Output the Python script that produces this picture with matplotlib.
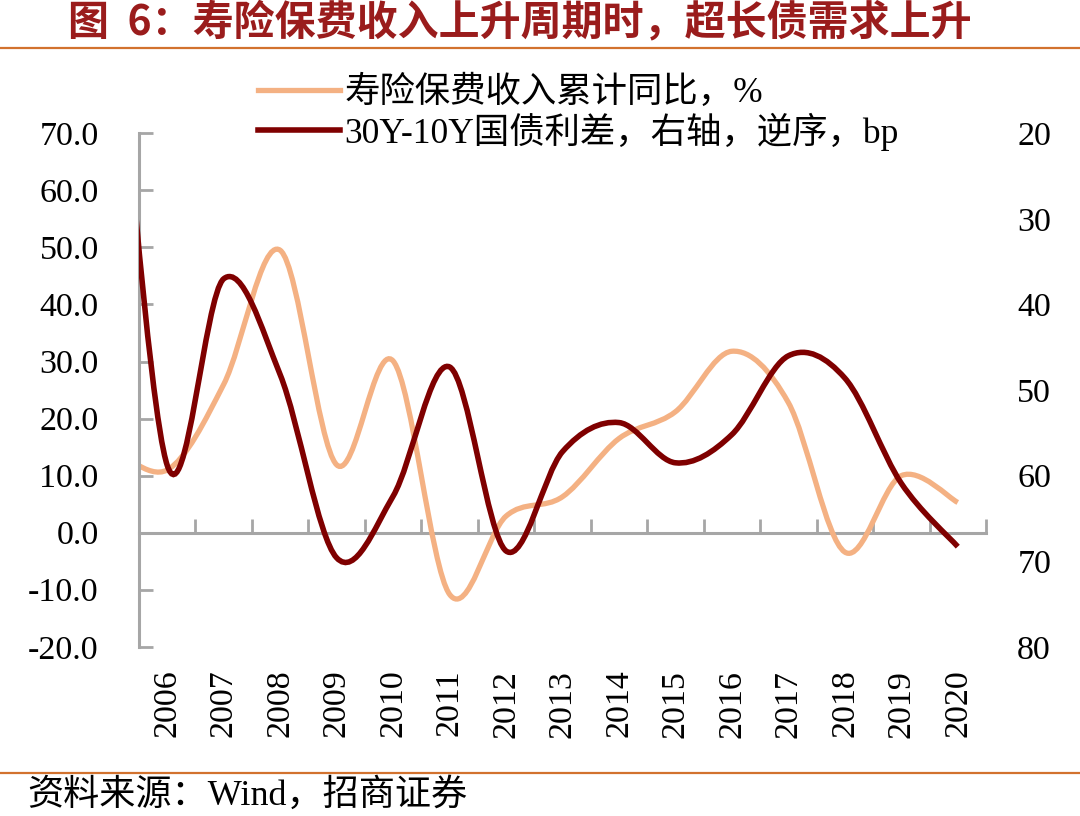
import numpy as np
import matplotlib
matplotlib.use('Agg')
import matplotlib.pyplot as plt
from matplotlib.path import Path
from matplotlib.patches import PathPatch
from matplotlib.lines import Line2D

plt.rcParams['font.family'] = ['Liberation Serif', 'Noto Sans CJK SC']

# data (2005 sits just left of the axis, only its curve enters the plot)
years = ['2005', '2006', '2007', '2008', '2009', '2010', '2011', '2012',
         '2013', '2014', '2015', '2016', '2017', '2018', '2019', '2020']
premium_yoy = [15.1, 11.0, 26.0, 49.5, 11.9, 30.1, -10.8, 2.9,
               6.3, 16.5, 21.2, 31.8, 22.8, -3.4, 10.0, 5.3]
spread_bp = [-3.0, 58.8, 37.0, 48.2, 69.6, 62.4, 47.3, 68.8,
             57.2, 53.8, 58.5, 55.2, 46.0, 48.6, 60.9, 68.3]

label_premium = '寿险保费收入累计同比，%'
label_spread = '30Y-10Y国债利差，右轴，逆序，bp'

c_orange = '#F4B183'
c_red = '#7F0000'
c_gray = '#A6A6A6'
c_rule = '#D2722E'


def smooth_path(xs, ys):
    # excel-like smoothed line: catmull-rom as cubic bezier segments
    pts = np.column_stack([xs, ys]).astype(float)
    n = len(pts)
    verts = [pts[0]]
    codes = [Path.MOVETO]
    for i in range(n - 1):
        p0 = pts[max(i - 1, 0)]
        p1 = pts[i]
        p2 = pts[i + 1]
        p3 = pts[min(i + 2, n - 1)]
        verts += [p1 + (p2 - p0) / 6, p2 - (p3 - p1) / 6, p2]
        codes += [Path.CURVE4] * 3
    return Path(verts, codes)


x = np.arange(len(years)) - 1

fig = plt.figure(figsize=(10.8, 8.16), dpi=100)
ax = fig.add_axes([139/1080, 1 - 646.8/816, 847/1080, 513.5/816])

ax.add_patch(PathPatch(smooth_path(x, premium_yoy), fill=False,
                       edgecolor=c_orange, lw=3.8, capstyle='butt'))
ax.set_xlim(-0.5, 14.5)
ax.set_ylim(-20, 70)
ax.set_yticks(np.arange(-20, 71, 10))
ax.set_yticklabels([f'{v:.1f}' for v in np.arange(-20, 71, 10)])
ax.tick_params(axis='y', direction='in', length=10, width=2, color=c_gray,
               pad=29, labelsize=24.5)
ax.set_xticks(x[1:])
ax.set_xticklabels(years[1:], rotation=90)
ax.tick_params(axis='x', length=0, pad=16.5, labelsize=24.5)
for s in ['top', 'right', 'bottom']:
    ax.spines[s].set_visible(False)
ax.spines['left'].set_color(c_gray)
ax.spines['left'].set_linewidth(2.2)

# category axis line at zero
sec = ax.secondary_xaxis(20/90)
sec.set_xticks(np.arange(0.5, 14.6, 1))
sec.set_xticklabels([])
sec.tick_params(direction='in', length=10, width=2, color=c_gray)
for s in sec.spines.values():
    s.set_color(c_gray)
    s.set_linewidth(2.2)

ax2 = ax.twinx()
ax2.add_patch(PathPatch(smooth_path(x, spread_bp), fill=False,
                        edgecolor=c_red, lw=4.0, capstyle='butt'))
ax2.set_ylim(80, 20)
ax2.set_yticks(np.arange(20, 81, 10))
ax2.tick_params(axis='y', length=0, pad=22.5, labelsize=24.5)
for s in ax2.spines.values():
    s.set_visible(False)

handles = [Line2D([], [], color=c_orange, lw=3.8),
           Line2D([], [], color=c_red, lw=4.0)]
fig.legend(handles, [label_premium, label_spread], loc='upper left',
           bbox_to_anchor=(258/1080, 1 - 76/816), frameon=False, fontsize=25.5,
           handlelength=2.32, handletextpad=0.12, labelspacing=0.06,
           borderpad=0, borderaxespad=0)

fig.text(68/1080, 1 - 22/816, '图  6：寿险保费收入上升周期时，超长债需求上升',
         family=['Noto Sans CJK SC'], weight='bold', color='#9A1C1C',
         fontsize=29.5, va='center', ha='left')
fig.add_artist(Line2D([0, 1], [1 - 48/816] * 2, transform=fig.transFigure,
                      color=c_rule, lw=1.6))
fig.add_artist(Line2D([0, 1], [1 - 773/816] * 2, transform=fig.transFigure,
                      color=c_rule, lw=1.6))
fig.text(27/1080, 1 - 795/816, '资料来源：Wind，招商证券', fontsize=26,
         va='center', ha='left')

fig.savefig('out.png', dpi=100)
